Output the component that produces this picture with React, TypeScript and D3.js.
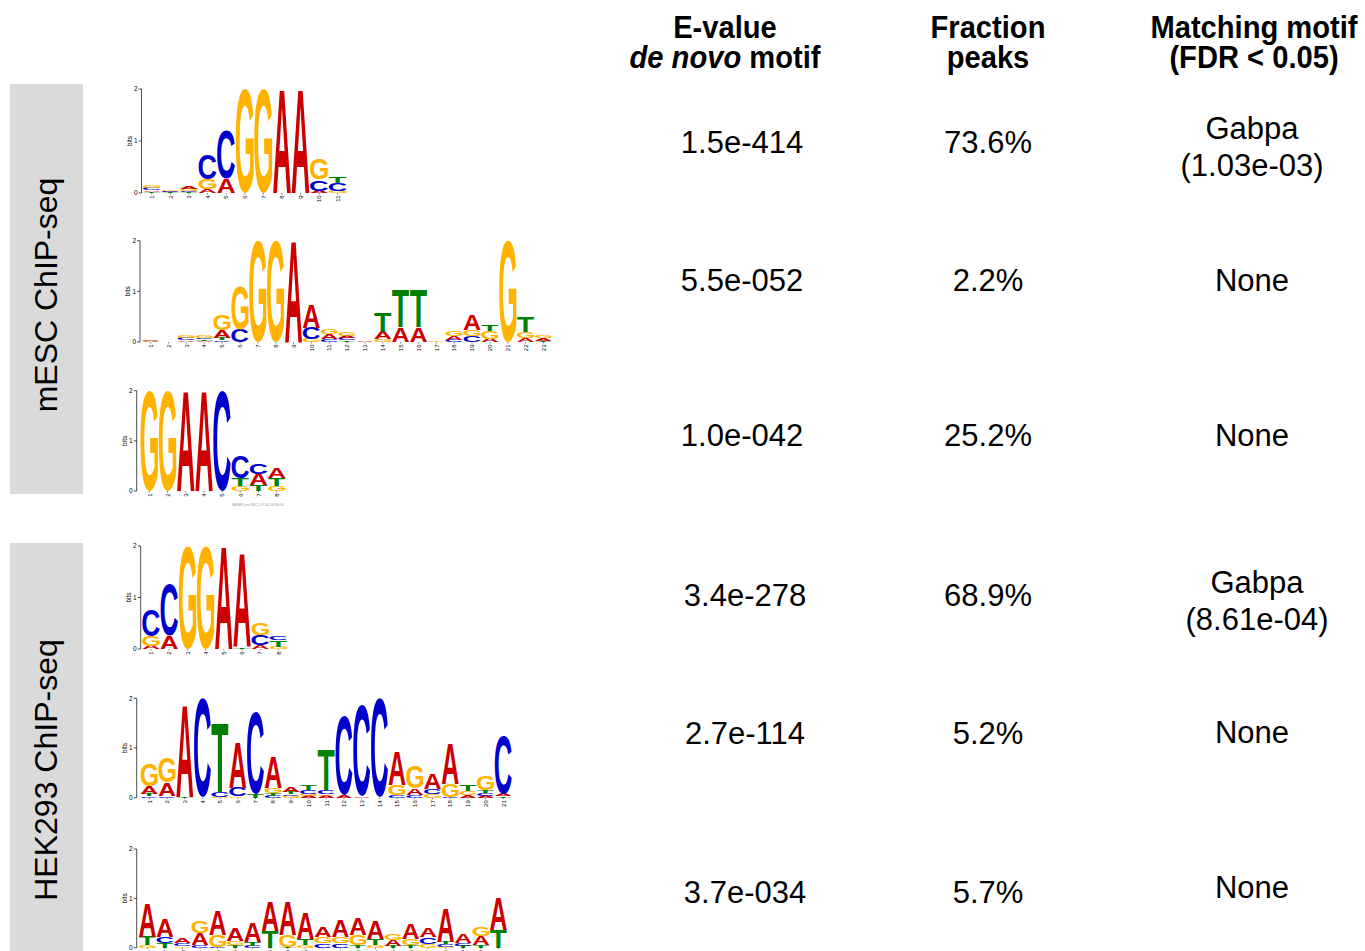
import React, { useMemo } from "react";
import * as d3 from "d3";

// ---------- data ----------
// each column: letters bottom -> top with their height in bits
const MESC_MOTIF_1 = [
  "T:.02 A:.03 C:.04 G:.05", "T:.01 A:.015 C:.015 G:.02", "T:.02 C:.02 G:.04 A:.05",
  "A:.08 G:.19 C:.49", "A:.28 C:.94", "G:2", "G:2", "A:2", "A:2",
  "A:.045 C:.21 G:.4", "G:.045 C:.15 T:.11",
];
const MESC_MOTIF_2 = [
  "A:.01 C:.015 G:.015", "", "A:.03 C:.04 G:.05", "A:.02 T:.03 C:.02 G:.05",
  "C:.03 T:.04 A:.16 G:.3", "C:.25 G:.86", "G:2", "G:2", "A:2",
  "G:.065 C:.22 A:.45", "C:.05 A:.1 G:.1", "T:.03 C:.04 A:.04 G:.07", "A:.01",
  "G:.05 A:.15 T:.375", "A:.29 T:.73", "A:.29 T:.75", "G:.02",
  "C:.04 A:.08 G:.09", "C:.12 G:.12 A:.31", "A:.065 G:.16 T:.13", "G:2",
  "A:.085 G:.12 T:.31", "T:.02 A:.06 G:.05",
];
const MESC_MOTIF_3 = [
  "G:2", "G:2", "A:2", "A:2", "C:2", "G:.1 T:.15 C:.45", "T:.12 A:.22 C:.2", "G:.1 T:.15 A:.21",
];
const HEK_MOTIF_1 = [
  "A:.06 G:.19 C:.52", "A:.25 C:1.0", "G:2", "G:2", "A:2", "T:.03 A:1.82",
  "A:.07 C:.2 G:.24", "G:.045 T:.13 C:.085",
];
const HEK_MOTIF_2 = [
  "C:.03 T:.04 A:.15 G:.45", "C:.03 A:.27 G:.5", "T:.02 A:1.85", "C:2",
  "G:.02 C:.1 T:1.38", "G:.03 C:.17 A:.92", "T:.07 C:1.64", "C:.04 T:.05 G:.1 A:.62",
  "G:.04 C:.03 T:.04 A:.09", "A:.04 G:.04 C:.08 T:.1", "A:.04 G:.03 C:.08 T:.82",
  "A:.06 C:1.58", "A:.03 C:1.83", "C:2", "C:.05 G:.2 A:.68", "C:.06 A:.13 G:.45",
  "G:.07 C:.1 A:.3", "C:.02 G:.25 A:.8", "A:.05 G:.08 T:.12", "A:.04 C:.06 T:.06 G:.28",
  "T:.03 A:.05 C:1.17",
];
const HEK_MOTIF_3 = [
  "G:.05 T:.17 A:.68", "T:.09 C:.135 A:.36", "G:.03 C:.06 A:.1", "C:.05 A:.24 G:.25",
  "C:.02 G:.24 A:.49", "T:.06 G:.08 A:.27", "C:.04 T:.08 A:.39", "T:.34 A:.59",
  "T:.02 G:.24 A:.69", "G:.05 T:.13 A:.52", "C:.09 G:.13 A:.22", "C:.09 G:.12 A:.35",
  "T:.05 G:.2 A:.35", "G:.05 T:.13 A:.37", "T:.04 A:.12 G:.12", "T:.06 G:.12 A:.32",
  "G:.08 C:.14 A:.18", "G:.02 C:.05 T:.05 A:.68", "T:.04 C:.05 A:.18",
  "T:.06 A:.17 G:.18", "T:.36 A:.66",
];

const MOTIFS = [MESC_MOTIF_1, MESC_MOTIF_2, MESC_MOTIF_3, HEK_MOTIF_1, HEK_MOTIF_2, HEK_MOTIF_3];
const BITS_TICKS = [0, 1, 2];

const GROUP_LABELS = ["mESC ChIP-seq", "HEK293 ChIP-seq"];
const HEADER_EVALUE = ["E-value", "motif"];
const HEADER_FRACTION = ["Fraction", "peaks"];
const HEADER_MATCH = ["Matching motif", "(FDR < 0.05)"];
const EVALUES = ["1.5e-414", "5.5e-052", "1.0e-042", "3.4e-278", "2.7e-114", "3.7e-034"];
const FRACTIONS = ["73.6%", "2.2%", "25.2%", "68.9%", "5.2%", "5.7%"];
const MATCHES = [["Gabpa", "(1.03e-03)"], ["None"], ["None"], ["Gabpa", "(8.61e-04)"], ["None"], ["None"]];

// ---------- layout ----------
const LOGO_LAYOUT = [
  { axisX: 141.5, base: 193, top: 89, left: 142.4, colW: 18.6 },
  { axisX: 140, base: 342, top: 240.7, left: 141.8, colW: 17.85 },
  { axisX: 136.7, base: 491, top: 390.7, left: 140.2, colW: 18.2 },
  { axisX: 140.7, base: 649, top: 546, left: 141.9, colW: 18.2 },
  { axisX: 136.7, base: 797.7, top: 698.3, left: 140.45, colW: 17.7 },
  { axisX: 136.7, base: 947.7, top: 849, left: 138.6, colW: 17.55 },
];
const ROW_Y = [142, 280, 435, 595, 733, 892];
const MATCH_Y = [[128, 165], [280], [435], [582, 619], [732], [887]];
const EVAL_X = [742, 742, 742, 745, 745, 745];
const MATCH_X = [1252, 1252, 1252, 1257, 1252, 1252];

const COLORS: Record<string, string> = { A: "#cc0000", C: "#0000cc", G: "#ffb300", T: "#008000" };
const LOGO_FONT = "Liberation Sans";
const FS = 100;

function parseCol(s: string) {
  if (!s.trim()) return [] as { l: string; h: number }[];
  return s.trim().split(/\s+/).map((t) => {
    const [l, h] = t.split(":");
    return { l, h: +h };
  });
}

function useMetrics() {
  return useMemo(() => {
    const ctx = document.createElement("canvas").getContext("2d")!;
    ctx.font = `bold ${FS}px "${LOGO_FONT}"`;
    const m: Record<string, { l: number; r: number; a: number; d: number }> = {};
    for (const L of ["A", "C", "G", "T"]) {
      const t = ctx.measureText(L);
      m[L] = {
        l: t.actualBoundingBoxLeft,
        r: t.actualBoundingBoxRight,
        a: t.actualBoundingBoxAscent,
        d: t.actualBoundingBoxDescent,
      };
    }
    return m;
  }, []);
}

function Logo({ cols, lay, metrics, idx }: any) {
  const y = d3.scaleLinear().domain([0, 2]).range([lay.base, lay.top]);
  const x = d3.scaleLinear().domain([0, cols.length]).range([lay.left, lay.left + lay.colW * cols.length]);
  const letters: any[] = [];
  cols.forEach((c: string, i: number) => {
    let acc = 0;
    parseCol(c).forEach((p, j) => {
      const y0 = y(acc);
      const y1 = y(acc + p.h);
      acc += p.h;
      const h = y0 - y1;
      if (h <= 0.05) return;
      const mm = metrics[p.l];
      const w = lay.colW * 0.96;
      const x0 = x(i) + (lay.colW - w) / 2;
      const sx = w / (mm.l + mm.r);
      const sy = h / (mm.a + mm.d);
      letters.push(
        <text
          key={`${i}-${j}`}
          transform={`translate(${x0},${y0}) scale(${sx},${sy})`}
          x={mm.l}
          y={-mm.d}
          fontFamily={LOGO_FONT}
          fontWeight="bold"
          fontSize={FS}
          fill={COLORS[p.l]}
        >
          {p.l}
        </text>
      );
    });
  });
  return (
    <g>
      {letters}
      <line x1={lay.axisX} x2={lay.axisX} y1={y(0)} y2={y(2)} stroke="#000" strokeWidth={0.7} />
      {BITS_TICKS.map((t) => (
        <g key={t}>
          <line x1={lay.axisX - 3} x2={lay.axisX} y1={y(t)} y2={y(t)} stroke="#000" strokeWidth={0.7} />
          <text x={lay.axisX - 4} y={y(t) + 2.3} fontSize={6.5} textAnchor="end" fontFamily="Liberation Sans">
            {t}
          </text>
        </g>
      ))}
      <text
        transform={`translate(${lay.axisX - 10},${y(1)}) rotate(-90)`}
        fontSize={6.5}
        textAnchor="middle"
        fontFamily="Liberation Sans"
      >
        bits
      </text>
      {cols.map((_: string, i: number) => (
        <g key={i}>
          <line x1={x(i + 0.5)} x2={x(i + 0.5)} y1={lay.base} y2={lay.base + 1.5} stroke="#000" strokeWidth={0.5} />
          <text
            transform={`translate(${x(i + 0.5) + 2.2},${lay.base + 2.5}) rotate(-90)`}
            fontSize={6}
            textAnchor="end"
            fontFamily="Liberation Sans"
          >
            {i + 1}
          </text>
        </g>
      ))}
      {idx === 2 && (
        <text x={258} y={506} fontSize={3.6} fill="#999" textAnchor="middle" fontFamily="Liberation Sans">
          MEME (no SSC) 19.06.18 00:00
        </text>
      )}
    </g>
  );
}

function Header({ cx, lines, italicPrefix }: { cx: number; lines: string[]; italicPrefix?: string }) {
  return (
    <g transform={`translate(${cx},0) scale(0.94,1)`}>
      <text x={0} y={38}>{lines[0]}</text>
      <text x={0} y={68}>
        {italicPrefix ? <tspan fontStyle="italic">{italicPrefix}</tspan> : null}
        {italicPrefix ? " " : ""}
        {lines[1]}
      </text>
    </g>
  );
}

export default function App() {
  const metrics = useMetrics();
  const bodyFont = "Liberation Sans";
  return (
    <svg
      width={1365}
      height={951}
      style={{ position: "absolute", left: 0, top: 0, background: "#fff" }}
      xmlns="http://www.w3.org/2000/svg"
    >
      <rect x={0} y={0} width={1365} height={951} fill="#fff" />
      {/* group side panels */}
      <rect x={10} y={84} width={73} height={410} fill="#dadada" />
      <rect x={10} y={543} width={73} height={420} fill="#dadada" />
      <text transform="translate(57,295) rotate(-90)" textAnchor="middle" fontSize={32} fontFamily={bodyFont}>
        {GROUP_LABELS[0]}
      </text>
      <text transform="translate(57,770) rotate(-90)" textAnchor="middle" fontSize={32} fontFamily={bodyFont}>
        {GROUP_LABELS[1]}
      </text>

      {/* headers */}
      <g fontFamily={bodyFont} fontWeight="bold" fontSize={31} textAnchor="middle">
        <Header cx={725} lines={HEADER_EVALUE} italicPrefix="de novo" />
        <Header cx={988} lines={HEADER_FRACTION} />
        <Header cx={1254} lines={HEADER_MATCH} />
      </g>

      {/* logos */}
      {MOTIFS.map((cols, i) => (
        <Logo key={i} cols={cols} lay={LOGO_LAYOUT[i]} metrics={metrics} idx={i} />
      ))}

      {/* values */}
      <g fontFamily={bodyFont} fontSize={31} textAnchor="middle">
        {EVALUES.map((v, i) => (
          <text key={"e" + i} x={EVAL_X[i]} y={ROW_Y[i] + 11}>{v}</text>
        ))}
        {FRACTIONS.map((v, i) => (
          <text key={"f" + i} x={988} y={ROW_Y[i] + 11}>{v}</text>
        ))}
        {MATCHES.map((lines, i) =>
          lines.map((l, j) => (
            <text key={"m" + i + j} x={MATCH_X[i]} y={MATCH_Y[i][j] + 11}>{l}</text>
          ))
        )}
      </g>
    </svg>
  );
}
